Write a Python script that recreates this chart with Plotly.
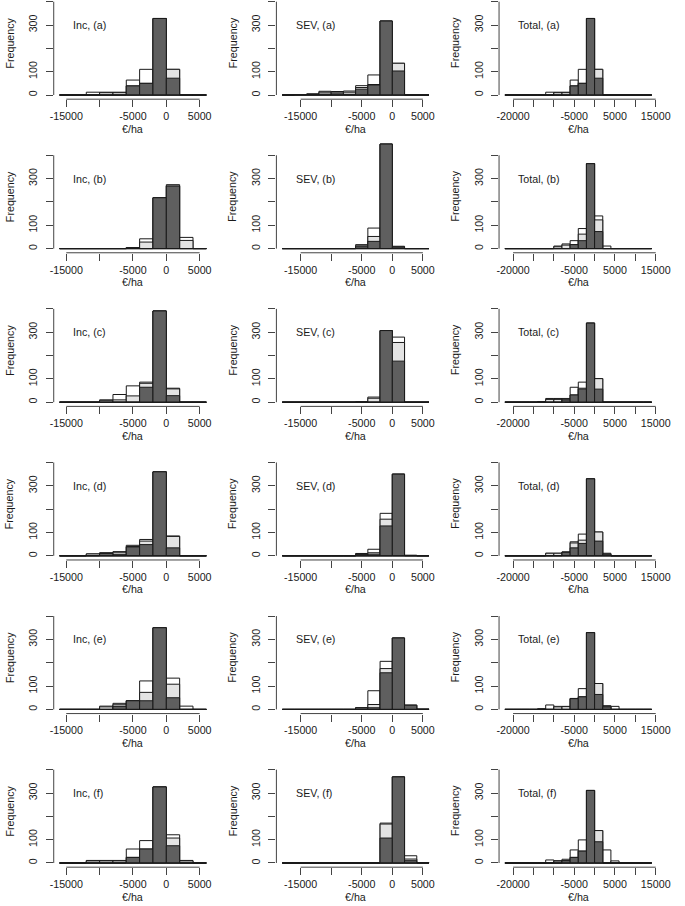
import plotly.graph_objects as go

# ---------------- data ----------------
inc_edges = list(range(-16000, 6001, 2000))
sev_edges = list(range(-18000, 6001, 2000))
tot_edges = list(range(-22000, 14001, 2000))

inc_ticks = [-15000, -10000, -5000, 0, 5000]
inc_ticktext = ["-15000", "", "-5000", "0", "5000"]
tot_ticks = [-20000, -15000, -10000, -5000, 0, 5000, 10000, 15000]
tot_ticktext = ["-20000", "", "", "-5000", "", "5000", "", "15000"]
y_ticks = [0, 100, 200, 300, 400]
y_ticktext = ["0", "100", "", "300", ""]

# Inc: bins -16000..6000 (11 bins)
inc_a_w = [0, 0, 12, 12, 12, 64, 110, 328, 110, 0, 0]
inc_a_l = [0, 0, 0, 10, 10, 39, 50, 328, 110, 0, 0]
inc_a_d = [0, 0, 0, 0, 0, 39, 50, 328, 72, 0, 0]
inc_b_w = [0, 0, 0, 0, 0, 4, 42, 218, 274, 48, 0]
inc_b_l = [0, 0, 0, 0, 0, 4, 28, 218, 268, 35, 0]
inc_b_d = [0, 0, 0, 0, 0, 4, 0, 218, 268, 0, 0]
inc_c_w = [0, 0, 0, 10, 33, 70, 86, 391, 60, 0, 0]
inc_c_l = [0, 0, 0, 8, 10, 27, 81, 391, 57, 0, 0]
inc_c_d = [0, 0, 0, 0, 0, 0, 64, 391, 28, 0, 0]
inc_d_w = [0, 0, 8, 13, 18, 45, 70, 360, 85, 0, 0]
inc_d_l = [0, 0, 8, 12, 13, 40, 63, 360, 83, 0, 0]
inc_d_d = [0, 0, 0, 10, 5, 38, 48, 360, 34, 0, 0]
inc_e_w = [0, 0, 0, 14, 26, 37, 122, 350, 134, 14, 0]
inc_e_l = [0, 0, 0, 11, 20, 37, 73, 350, 108, 0, 0]
inc_e_d = [0, 0, 0, 0, 13, 37, 37, 350, 50, 0, 0]
inc_f_w = [0, 0, 11, 11, 11, 60, 96, 326, 121, 11, 0]
inc_f_l = [0, 0, 9, 9, 9, 24, 60, 326, 107, 9, 0]
inc_f_d = [0, 0, 0, 0, 0, 24, 60, 326, 74, 0, 0]

# SEV: bins -18000..6000 (12 bins)
sev_a_w = [0, 2, 5, 16, 15, 17, 40, 86, 317, 136, 0, 0]
sev_a_l = [0, 2, 4, 12, 12, 12, 32, 45, 317, 136, 0, 0]
sev_a_d = [0, 1, 2, 4, 5, 3, 25, 43, 317, 103, 0, 0]
sev_b_w = [0, 0, 0, 0, 0, 0, 17, 88, 448, 10, 0, 0]
sev_b_l = [0, 0, 0, 0, 0, 0, 12, 52, 448, 8, 0, 0]
sev_b_d = [0, 0, 0, 0, 0, 0, 8, 31, 448, 6, 0, 0]
sev_c_w = [0, 0, 0, 0, 0, 0, 2, 22, 307, 279, 0, 0]
sev_c_l = [0, 0, 0, 0, 0, 0, 2, 17, 307, 256, 0, 0]
sev_c_d = [0, 0, 0, 0, 0, 0, 0, 0, 307, 176, 0, 0]
sev_d_w = [0, 0, 0, 0, 0, 0, 10, 28, 182, 350, 2, 0]
sev_d_l = [0, 0, 0, 0, 0, 0, 8, 13, 157, 350, 2, 0]
sev_d_d = [0, 0, 0, 0, 0, 0, 6, 7, 128, 350, 0, 0]
sev_e_w = [0, 0, 0, 0, 0, 0, 7, 80, 206, 306, 18, 2]
sev_e_l = [0, 0, 0, 0, 0, 0, 7, 21, 175, 306, 18, 0]
sev_e_d = [0, 0, 0, 0, 0, 0, 7, 7, 157, 306, 18, 0]
sev_f_w = [0, 0, 0, 0, 0, 0, 0, 0, 171, 369, 31, 2]
sev_f_l = [0, 0, 0, 0, 0, 0, 0, 0, 167, 369, 17, 0]
sev_f_d = [0, 0, 0, 0, 0, 0, 0, 0, 107, 369, 10, 0]

# Total: bins -22000..14000 (18 bins)
tot_a_w = [0, 0, 0, 0, 0, 12, 12, 12, 64, 110, 328, 110, 0, 0, 0, 0, 0, 0]
tot_a_l = [0, 0, 0, 0, 0, 0, 10, 10, 39, 50, 328, 110, 0, 0, 0, 0, 0, 0]
tot_a_d = [0, 0, 0, 0, 0, 0, 0, 0, 39, 50, 328, 72, 0, 0, 0, 0, 0, 0]
tot_b_w = [0, 0, 0, 0, 0, 0, 11, 20, 34, 86, 364, 140, 11, 0, 0, 0, 0, 0]
tot_b_l = [0, 0, 0, 0, 0, 0, 8, 15, 17, 62, 364, 123, 0, 0, 0, 0, 0, 0]
tot_b_d = [0, 0, 0, 0, 0, 0, 0, 0, 17, 34, 364, 73, 0, 0, 0, 0, 0, 0]
tot_c_w = [0, 0, 0, 0, 3, 16, 16, 16, 64, 86, 339, 101, 0, 0, 0, 0, 0, 0]
tot_c_l = [0, 0, 0, 0, 0, 12, 12, 10, 31, 60, 339, 101, 0, 0, 0, 0, 0, 0]
tot_c_d = [0, 0, 0, 0, 0, 0, 0, 10, 31, 56, 339, 56, 0, 0, 0, 0, 0, 0]
tot_d_w = [0, 0, 0, 0, 0, 11, 11, 17, 60, 93, 330, 102, 11, 0, 0, 0, 0, 0]
tot_d_l = [0, 0, 0, 0, 0, 11, 11, 15, 55, 67, 330, 102, 7, 0, 0, 0, 0, 0]
tot_d_d = [0, 0, 0, 0, 0, 0, 0, 15, 34, 53, 330, 63, 7, 0, 0, 0, 0, 0]
tot_e_w = [0, 0, 0, 0, 3, 19, 13, 13, 47, 89, 329, 111, 16, 13, 0, 0, 0, 0]
tot_e_l = [0, 0, 0, 0, 0, 0, 11, 12, 46, 54, 329, 111, 11, 0, 0, 0, 0, 0]
tot_e_d = [0, 0, 0, 0, 0, 0, 0, 0, 46, 54, 329, 64, 11, 0, 0, 0, 0, 0]
tot_f_w = [0, 0, 0, 0, 0, 13, 10, 16, 56, 99, 311, 139, 56, 9, 0, 0, 0, 0]
tot_f_l = [0, 0, 0, 0, 0, 0, 8, 10, 24, 51, 311, 139, 0, 0, 0, 0, 0, 0]
tot_f_d = [0, 0, 0, 0, 0, 0, 0, 10, 24, 51, 311, 91, 0, 0, 0, 0, 0, 0]

row_letters = ["a", "b", "c", "d", "e", "f"]
columns = [
    ("Inc", inc_edges, inc_ticks, inc_ticktext,
     [(inc_a_w, inc_a_l, inc_a_d), (inc_b_w, inc_b_l, inc_b_d), (inc_c_w, inc_c_l, inc_c_d),
      (inc_d_w, inc_d_l, inc_d_d), (inc_e_w, inc_e_l, inc_e_d), (inc_f_w, inc_f_l, inc_f_d)]),
    ("SEV", sev_edges, inc_ticks, inc_ticktext,
     [(sev_a_w, sev_a_l, sev_a_d), (sev_b_w, sev_b_l, sev_b_d), (sev_c_w, sev_c_l, sev_c_d),
      (sev_d_w, sev_d_l, sev_d_d), (sev_e_w, sev_e_l, sev_e_d), (sev_f_w, sev_f_l, sev_f_d)]),
    ("Total", tot_edges, tot_ticks, tot_ticktext,
     [(tot_a_w, tot_a_l, tot_a_d), (tot_b_w, tot_b_l, tot_b_d), (tot_c_w, tot_c_l, tot_c_d),
      (tot_d_w, tot_d_l, tot_d_d), (tot_e_w, tot_e_l, tot_e_d), (tot_f_w, tot_f_l, tot_f_d)]),
]

# ---------------- styling / geometry ----------------
W_PX, H_PX = 685, 906
ZERO0, ROW_STEP = 95.0, 153.6
PPU = 0.2333
YMIN, YMAX = -17.9, 465.9
COL_LEFT0, COL_STEP, PLOT_W = 51.0, 228.33, 162.5
FONT = "Liberation Sans, Arial, sans-serif"
FS = 10.7
TXT = "#1a1a1a"
AX = "#444444"
EDGE = "#1a1a1a"
C_WHITE, C_LIGHT, C_DARK = "#ffffff", "#e3e3e3", "#5f5f5f"

fig = go.Figure()
layout = dict(
    width=W_PX, height=H_PX, margin=dict(l=0, r=0, t=0, b=0),
    paper_bgcolor="white", plot_bgcolor="rgba(0,0,0,0)",
    barmode="overlay", showlegend=False,
    font=dict(family=FONT, size=FS, color=TXT),
)
shapes, annotations = [], []

n = 0
for c, (name, edges, xt, xtt, rows) in enumerate(columns):
    centers = [(edges[i] + edges[i + 1]) / 2 for i in range(len(edges) - 1)]
    bw = edges[1] - edges[0]
    ext = 0.04 * (edges[-1] - edges[0])
    xrange_ = [edges[0] - ext, edges[-1] + ext]
    left = COL_LEFT0 + COL_STEP * c
    for r, (wv, lv, dv) in enumerate(rows):
        n += 1
        sx = "" if n == 1 else str(n)
        xa, ya = "x" + sx, "y" + sx
        zero = ZERO0 + ROW_STEP * r
        top_px = zero - YMAX * PPU
        bot_px = zero - YMIN * PPU
        ytop = YMAX
        if top_px < 0:
            ytop = zero / PPU
            top_px = 0.0
        for vals, col in ((wv, C_WHITE), (lv, C_LIGHT), (dv, C_DARK)):
            fig.add_trace(go.Bar(
                x=centers, y=vals, width=bw, xaxis=xa, yaxis=ya,
                marker=dict(color=col, line=dict(color=EDGE, width=1)),
                hoverinfo="skip", showlegend=False))
        fig.add_trace(go.Scatter(
            x=[edges[0], edges[-1]], y=[0, 0], mode="lines", xaxis=xa, yaxis=ya,
            line=dict(color=EDGE, width=1), hoverinfo="skip", showlegend=False))
        layout["xaxis" + sx] = dict(
            domain=[left / W_PX, (left + PLOT_W) / W_PX], range=xrange_, anchor=ya,
            showgrid=False, zeroline=False, showline=False, fixedrange=True,
            tickmode="array", tickvals=xt, ticktext=xtt,
            ticks="outside", ticklen=7, tickwidth=1, tickcolor=AX,
            tickfont=dict(family=FONT, size=FS, color=TXT))
        layout["yaxis" + sx] = dict(
            domain=[1 - bot_px / H_PX, 1 - top_px / H_PX], range=[YMIN, ytop], anchor=xa,
            showgrid=False, zeroline=False, showline=False, fixedrange=True,
            tickmode="array", tickvals=y_ticks, ticktext=y_ticktext, tickangle=-90,
            ticks="outside", ticklen=7, tickwidth=1, tickcolor=AX, ticklabelstandoff=4,
            tickfont=dict(family=FONT, size=FS, color=TXT))
        # axis lines spanning first to last tick (R style)
        shapes.append(dict(type="line", xref=xa + " domain", yref=ya,
                           x0=0, x1=0, y0=y_ticks[0], y1=y_ticks[-1],
                           line=dict(color=AX, width=1)))
        shapes.append(dict(type="line", xref=xa, yref=ya + " domain",
                           x0=xt[0], x1=xt[-1], y0=0, y1=0,
                           line=dict(color=AX, width=1)))
        annotations.append(dict(text=f"{name}, ({row_letters[r]})", xref="paper", yref="paper",
                                x=(left + 17.7) / W_PX, y=1 - (zero - 70) / H_PX,
                                xanchor="left", yanchor="middle", showarrow=False,
                                font=dict(family=FONT, size=FS, color=TXT)))
        annotations.append(dict(text="Frequency", xref="paper", yref="paper", textangle=-90,
                                x=(left - 45) / W_PX, y=1 - (zero - 52.3) / H_PX,
                                xanchor="center", yanchor="middle", showarrow=False,
                                font=dict(family=FONT, size=FS, color=TXT)))
        annotations.append(dict(text="€/ha", xref="paper", yref="paper",
                                x=(left + PLOT_W / 2) / W_PX, y=1 - (zero + 33.5) / H_PX,
                                xanchor="center", yanchor="middle", showarrow=False,
                                font=dict(family=FONT, size=FS, color=TXT)))

layout["shapes"] = shapes
layout["annotations"] = annotations
fig.update_layout(**layout)
fig.write_html("out.html", config={"displayModeBar": False},
               post_script="document.body.style.margin='0';document.body.style.padding='0';")
